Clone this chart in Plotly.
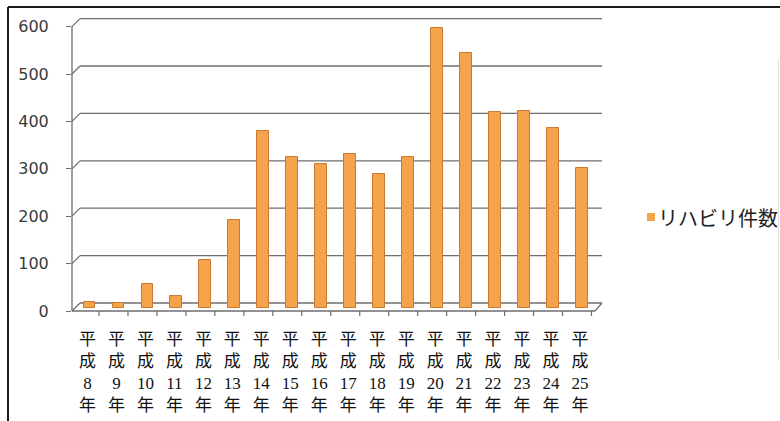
import plotly.graph_objects as go

# ---- data -------------------------------------------------------------
years = [8, 9, 10, 11, 12, 13, 14, 15, 16, 17, 18, 19, 20, 21, 22, 23, 24, 25]
categories = [f"平成{y}年" for y in years]
rehab_counts = [13, 10, 50, 26, 101, 186, 373, 319, 304, 325, 283, 319,
                591, 539, 414, 416, 380, 295]
series_name = "リハビリ件数"
y_ticks = [0, 100, 200, 300, 400, 500, 600]

# ---- geometry ---------------------------------------------------------
W, H = 780, 421
L, R, T, B = 72, 178, 10, 105
PW, PH = W - L - R, H - T - B
UNIT_PX = 0.474          # pixels per count unit
CAT_PX = 28.97           # pixels per category
BASE_PY = 308            # pixel row of the bar base
FIRST_PX = 89.5          # pixel column of the first bar centre

def dy(px):
    """pixel offset -> y data units"""
    return px / UNIT_PX

def dx(px):
    """pixel offset -> category units"""
    return px / CAT_PX

def pxx(px):
    return (px - L) / PW

def pxy(py):
    return (H - B - py) / PH

y_range = [(BASE_PY - (H - B)) / UNIT_PX, (BASE_PY - T) / UNIT_PX]
x_range = [(L - FIRST_PX) / CAT_PX, (L + PW - FIRST_PX) / CAT_PX]

FRONT = -dy(3)   # front edge of the floor (tick labels sit here)
BACK = dy(5)     # back wall offset for the gridlines

BAR_FILL = "#F4A24C"
BAR_EDGE = "#C97A30"
GRID = "#6e6e6e"

def vlabel(y):
    return "<br>".join(["平", "成", str(y), "年"])

fig = go.Figure()
fig.add_trace(go.Bar(
    x=list(range(len(categories))),
    y=rehab_counts,
    name=series_name,
    width=0.41,
    marker=dict(color=BAR_FILL, line=dict(color=BAR_EDGE, width=1)),
    hovertext=categories,
    showlegend=False,
))

shapes = []
# back-wall gridlines with their short perspective stubs
for v in y_ticks:
    shapes.append(dict(type="line", xref="paper", yref="y", layer="below",
                       x0=pxx(80), x1=1.0, y0=v + BACK, y1=v + BACK,
                       line=dict(color=GRID, width=1.3)))
    shapes.append(dict(type="line", xref="paper", yref="y", layer="below",
                       x0=0, x1=pxx(80), y0=v + FRONT, y1=v + BACK,
                       line=dict(color=GRID, width=1.2)))
# vertical axis line
shapes.append(dict(type="line", xref="paper", yref="y", layer="below",
                   x0=0, x1=0, y0=FRONT, y1=y_ticks[-1] + FRONT,
                   line=dict(color=GRID, width=1.3)))
# floor front edge and right-hand corner
shapes.append(dict(type="line", xref="paper", yref="y", layer="below",
                   x0=0, x1=pxx(595), y0=FRONT, y1=FRONT,
                   line=dict(color=GRID, width=1.3)))
shapes.append(dict(type="line", xref="paper", yref="y", layer="below",
                   x0=pxx(595), x1=1.0, y0=FRONT, y1=BACK,
                   line=dict(color=GRID, width=1.2)))
# category boundary ticks on the floor edge
for k in range(len(categories) + 1):
    xb = k - 0.5 - dx(5)
    shapes.append(dict(type="line", xref="x", yref="y",
                       x0=xb, x1=xb, y0=FRONT, y1=FRONT - dy(5),
                       line=dict(color=GRID, width=1.2)))
# chart frame
shapes.append(dict(type="line", xref="paper", yref="paper",
                   x0=pxx(8), x1=pxx(W), y0=pxy(7), y1=pxy(7),
                   line=dict(color="#1a1a1a", width=2)))
shapes.append(dict(type="line", xref="paper", yref="paper",
                   x0=pxx(8), x1=pxx(8), y0=pxy(7), y1=pxy(H),
                   line=dict(color="#1a1a1a", width=2)))
shapes.append(dict(type="line", xref="paper", yref="paper",
                   x0=pxx(778.5), x1=pxx(778.5), y0=pxy(60), y1=pxy(360),
                   line=dict(color="#e2e2e2", width=1)))
# legend key
shapes.append(dict(type="rect", xref="paper", yref="paper",
                   x0=pxx(647), x1=pxx(655), y0=pxy(221), y1=pxy(213),
                   fillcolor=BAR_FILL, line=dict(width=0)))

annotations = [dict(
    xref="paper", yref="paper", x=pxx(656), y=pxy(217),
    xanchor="left", yanchor="middle", showarrow=False,
    text=series_name,
    font=dict(family="Noto Sans CJK JP", size=20, color="#222222"),
)]

fig.update_layout(
    width=W, height=H,
    margin=dict(l=L, r=R, t=T, b=B, pad=0, autoexpand=False),
    paper_bgcolor="white",
    plot_bgcolor="white",
    bargap=0,
    shapes=shapes,
    annotations=annotations,
    xaxis=dict(
        range=x_range,
        automargin=False,
        tickmode="array",
        tickvals=list(range(len(categories))),
        ticktext=[vlabel(y) for y in years],
        ticks="",
        showgrid=False, zeroline=False, showline=False,
        tickangle=0,
        ticklabelstandoff=11,
        ticklabelshift=-2,
        tickfont=dict(family="Liberation Serif, Noto Sans CJK JP",
                      size=17, color="#111111"),
    ),
    yaxis=dict(
        range=y_range,
        automargin=False,
        tickmode="array",
        tickvals=[v + FRONT for v in y_ticks],
        ticktext=[str(v) for v in y_ticks],
        ticks="outside", ticklen=5, tickcolor=GRID, tickwidth=1.2,
        ticklabelstandoff=14,
        showgrid=False, zeroline=False, showline=False,
        tickfont=dict(family="DejaVu Sans", size=16, color="#3a3a3a"),
    ),
)

fig.write_html("out.html")
